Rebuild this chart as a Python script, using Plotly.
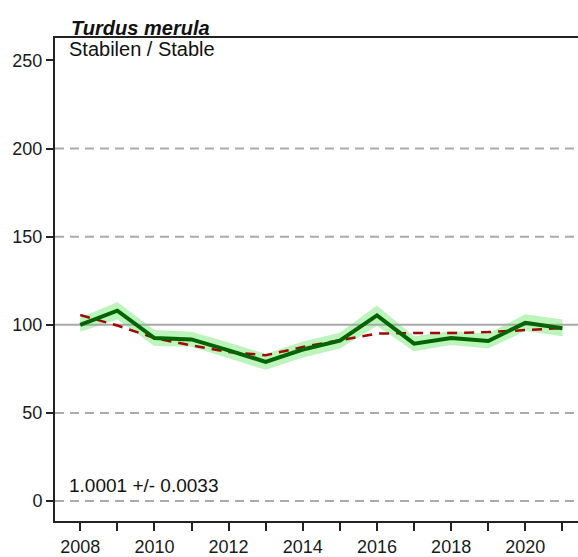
import plotly.graph_objects as go

years = list(range(2008, 2022))
index_vals = [100, 108, 92.5, 91.7, 85.5, 79, 86, 91, 105.3, 89.3, 92.5, 90.8, 101.1, 98.1]
lower = [96, 103, 88, 87.5, 81, 74.5, 81.5, 86.5, 99.5, 85, 88.5, 86.5, 96.5, 93.5]
upper = [104, 113, 97, 96, 90, 83.5, 90.5, 95.5, 111, 93.5, 96.5, 95, 106, 103]
trend_vals = [105.6, 99.6, 92.5, 88.3, 84.6, 82.7, 87.4, 91.2, 95, 95.3, 95.3, 95.9, 96.8, 98.1]
dashed_levels = [0, 50, 150, 200]
solid_level = 100
y_ticks = [0, 50, 100, 150, 200, 250]
x_ticks = years
x_labels = [str(y) if y % 2 == 0 else "" for y in years]

FONT = "Liberation Sans, Arial, sans-serif"

fig = go.Figure()

fig.add_trace(go.Scatter(
    x=years + years[::-1], y=upper + lower[::-1],
    fill="toself", fillcolor="rgb(188,244,188)", line=dict(width=0),
    hoverinfo="skip", showlegend=False))

fig.add_trace(go.Scatter(
    x=[2007.32, 2021.42], y=[solid_level, solid_level], mode="lines",
    line=dict(color="#a8a8a8", width=2), hoverinfo="skip", showlegend=False))

fig.add_trace(go.Scatter(
    x=years, y=trend_vals, mode="lines",
    line=dict(color="#a00808", width=2.5, dash="10px,7px"), showlegend=False))

fig.add_trace(go.Scatter(
    x=years, y=index_vals, mode="lines",
    line=dict(color="#006400", width=4), showlegend=False))

for lv in dashed_levels:
    fig.add_shape(type="line", xref="paper", x0=0, x1=1, yref="y", y0=lv, y1=lv,
                  line=dict(color="#aaaaaa", width=2, dash="9px,6px"), layer="below")

fig.add_annotation(text="<b><i>Turdus merula</i></b>", xref="paper", yref="paper",
                   x=0.026, y=1.0, xanchor="left", yanchor="bottom", showarrow=False,
                   yshift=-3, font=dict(family=FONT, size=20, color="#111"))
fig.add_annotation(text="Stabilen / Stable", xref="paper", yref="paper",
                   x=0.022, y=1.0, xanchor="left", yanchor="top", showarrow=False,
                   yshift=2, font=dict(family=FONT, size=20, color="#111"))
fig.add_annotation(text="1.0001 +/- 0.0033", xref="paper", yref="y",
                   x=0.022, y=2, xanchor="left", yanchor="bottom", showarrow=False,
                   font=dict(family=FONT, size=19, color="#111"))

fig.update_layout(
    width=578, height=557,
    margin=dict(l=55, r=0, t=38, b=33),
    paper_bgcolor="white", plot_bgcolor="white",
    font=dict(family=FONT, size=18, color="#1a1a1a"),
    showlegend=False,
    xaxis=dict(range=[2007.32, 2021.42], tickmode="array", tickvals=x_ticks, ticktext=x_labels,
               showgrid=False, zeroline=False, showline=True, linecolor="#222", linewidth=2,
               mirror=True, ticks="outside", ticklen=8, tickwidth=2, tickcolor="#222"),
    yaxis=dict(range=[-11.3, 262.7], tickmode="array", tickvals=y_ticks,
               showgrid=False, zeroline=False, showline=True, linecolor="#222", linewidth=2,
               ticks="outside", ticklen=7, tickwidth=2, tickcolor="#222"),
)

fig.write_html("out.html", config={"displayModeBar": False},
               post_script="document.body.style.margin='0';document.body.style.overflow='hidden';")
